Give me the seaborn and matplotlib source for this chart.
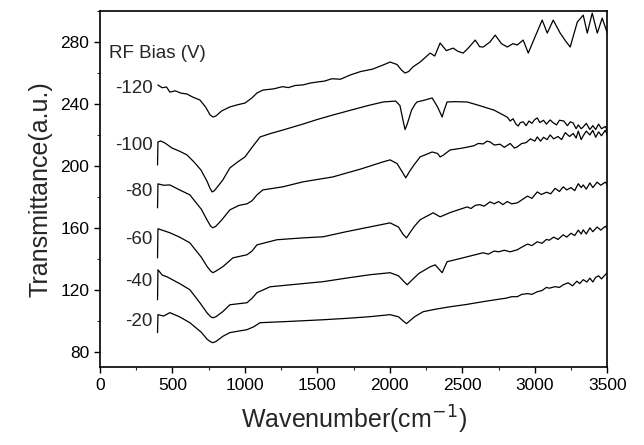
import numpy as np
import pandas as pd
import matplotlib
matplotlib.use("Agg")
import matplotlib.pyplot as plt
from matplotlib.ticker import MultipleLocator
import seaborn as sns

# ---- data ----
biases = ["-120", "-100", "-80", "-60", "-40", "-20"]

wn_120 = [400, 430, 460, 483, 520, 560, 600, 640, 690, 730, 760, 780, 800, 840, 897, 950, 1001, 1050,
          1084, 1125, 1200, 1260, 1300, 1350, 1400, 1450, 1498, 1550, 1600, 1660, 1726, 1800, 1880,
          1954, 2002, 2050, 2080, 2105, 2130, 2160, 2209, 2250, 2278, 2310, 2347, 2390, 2437, 2470,
          2506, 2540, 2589, 2620, 2644, 2690, 2727, 2770, 2810, 2850, 2879, 2920, 2955, 3000, 3051,
          3086, 3127, 3175, 3210, 3244, 3293, 3334, 3362, 3396, 3431, 3465, 3500]
t_120 = [252.3, 250.5, 251.0, 247.7, 248.5, 247.0, 246.5, 244.5, 242.6, 238.0, 233.0, 231.6, 232.2,
         235.5, 238.1, 239.5, 240.6, 244.0, 247.1, 249.0, 249.8, 251.2, 250.6, 252.0, 252.3, 253.5,
         254.2, 254.8, 256.3, 256.0, 258.7, 261.0, 262.5, 265.2, 267.1, 265.5, 262.0, 260.0, 261.0,
         264.0, 267.1, 270.5, 272.9, 271.0, 279.4, 274.5, 276.1, 274.0, 272.9, 276.0, 281.3, 277.0,
         276.8, 280.0, 284.5, 279.0, 276.8, 279.0, 278.1, 281.3, 272.9, 283.0, 294.2, 285.8, 294.2,
         285.8, 281.0, 276.8, 292.9, 297.4, 285.8, 298.7, 285.8, 295.5, 285.8]

wn_100 = [398, 401, 420, 449, 497, 550, 601, 650, 697, 740, 760, 775, 790, 820, 849, 897, 950, 1001,
          1050, 1105, 1180, 1263, 1400, 1500, 1608, 1750, 1850, 1954, 2040, 2070, 2090, 2105, 2120,
          2150, 2175, 2188, 2240, 2292, 2330, 2361, 2375, 2395, 2450, 2533, 2600, 2672, 2720, 2782,
          2810, 2830, 2850, 2870, 2886, 2900, 2920, 2940, 2960, 2980, 3000, 3017, 3035, 3060, 3080,
          3106, 3125, 3150, 3170, 3200, 3225, 3245, 3265, 3285, 3300, 3320, 3334, 3355, 3380, 3400,
          3420, 3440, 3460, 3486, 3500]
t_100 = [200.6, 215.5, 216.1, 214.8, 211.6, 209.5, 207.1, 202.5, 197.4, 190.0, 185.5, 183.2, 184.0,
         187.5, 191.0, 198.7, 202.5, 205.8, 212.0, 218.7, 221.0, 223.2, 227.0, 230.0, 232.9, 236.5,
         239.0, 241.3, 241.9, 239.0, 230.0, 223.5, 227.0, 236.0, 240.0, 241.3, 242.5, 243.9, 238.0,
         231.6, 236.0, 241.3, 241.5, 241.3, 239.5, 237.4, 236.0, 232.9, 231.5, 229.0, 230.5, 227.0,
         225.8, 228.0, 228.5, 226.0, 229.0, 227.5, 230.0, 231.0, 228.0, 229.5, 227.0, 229.7, 228.0,
         226.5, 229.5, 229.0, 226.0, 228.5, 227.7, 224.0, 226.5, 224.0, 225.2, 227.5, 223.5, 226.0,
         223.5, 227.0, 224.0, 225.5, 223.0]

wn_80 = [398, 401, 440, 483, 550, 621, 700, 740, 765, 780, 800, 840, 897, 960, 1015, 1050, 1084,
         1125, 1263, 1401, 1608, 1800, 1950, 2002, 2050, 2080, 2110, 2140, 2170, 2209, 2292, 2330,
         2347, 2370, 2416, 2500, 2580, 2610, 2644, 2670, 2692, 2720, 2760, 2790, 2830, 2860, 2879,
         2910, 2940, 2970, 3000, 3017, 3040, 3060, 3085, 3106, 3130, 3160, 3185, 3210, 3240, 3265,
         3285, 3300, 3320, 3334, 3355, 3380, 3400, 3420, 3440, 3460, 3486, 3500]
t_80 = [172.9, 188.4, 187.5, 187.7, 184.5, 181.3, 172.0, 165.0, 161.0, 160.0, 161.0, 165.0, 171.6,
        174.5, 175.5, 177.5, 181.3, 184.5, 186.5, 189.7, 192.9, 198.0, 202.5, 203.9, 201.5, 197.0,
        192.3, 197.0, 201.0, 205.8, 209.0, 208.0, 205.8, 207.0, 210.3, 211.5, 213.0, 214.5, 214.2,
        216.0, 215.5, 213.5, 214.0, 212.0, 214.5, 211.5, 212.3, 214.5, 215.0, 217.5, 216.0, 218.7,
        216.0, 218.5, 217.0, 220.0, 217.5, 219.0, 217.0, 221.5, 219.0, 221.0, 218.0, 222.5, 217.0,
        219.5, 222.5, 220.0, 223.0, 218.5, 222.0, 219.5, 223.0, 220.0]

wn_60 = [398, 401, 483, 550, 621, 700, 740, 765, 780, 800, 850, 918, 1015, 1050, 1084, 1222, 1400,
         1539, 1700, 1864, 2002, 2060, 2090, 2115, 2140, 2170, 2209, 2299, 2347, 2420, 2533, 2560,
         2590, 2620, 2650, 2692, 2720, 2750, 2780, 2810, 2840, 2879, 2910, 2950, 2980, 3017, 3045,
         3080, 3110, 3140, 3170, 3196, 3220, 3250, 3275, 3300, 3320, 3334, 3355, 3380, 3400, 3430,
         3455, 3486, 3500]
t_60 = [140.6, 159.4, 156.8, 154.0, 150.3, 141.0, 135.0, 132.0, 131.0, 132.0, 135.0, 140.6, 142.6,
        145.0, 149.0, 152.3, 153.5, 154.2, 157.5, 160.6, 163.2, 160.5, 156.0, 153.5, 157.0, 161.0,
        165.2, 169.7, 167.1, 170.0, 173.5, 172.5, 174.5, 175.0, 174.0, 176.8, 175.5, 177.0, 175.0,
        177.0, 175.5, 176.1, 178.0, 180.5, 179.0, 183.2, 181.5, 183.0, 182.0, 185.5, 183.5, 186.5,
        184.5, 186.0, 184.0, 188.5, 186.0, 187.7, 185.0, 189.0, 186.0, 189.5, 187.5, 189.5, 188.0]

wn_40 = [398, 401, 430, 462, 550, 621, 690, 740, 765, 780, 800, 850, 897, 1015, 1050, 1084, 1174,
         1350, 1539, 1700, 1864, 2002, 2060, 2095, 2120, 2150, 2200, 2278, 2313, 2361, 2395, 2500,
         2644, 2680, 2720, 2750, 2790, 2830, 2879, 2910, 2950, 2980, 3017, 3050, 3080, 3100, 3130,
         3160, 3196, 3220, 3250, 3275, 3300, 3320, 3334, 3355, 3380, 3400, 3430, 3455, 3486, 3500]
t_40 = [113.5, 132.9, 129.5, 128.4, 124.0, 120.0, 111.6, 105.0, 102.5, 101.9, 102.5, 106.0, 110.3,
        111.6, 114.5, 118.1, 121.9, 123.5, 125.2, 127.5, 129.7, 131.0, 129.0, 125.5, 123.2, 126.0,
        130.5, 134.8, 136.1, 131.0, 138.1, 140.5, 143.9, 143.0, 145.0, 144.5, 145.5, 144.5, 145.8,
        147.5, 149.5, 148.5, 151.0, 150.0, 152.5, 152.0, 154.0, 152.5, 155.5, 154.0, 156.5, 155.0,
        158.5, 156.0, 158.7, 156.0, 160.0, 157.5, 160.5, 158.5, 161.0, 159.5]

wn_20 = [398, 401, 440, 483, 550, 621, 700, 740, 765, 780, 800, 850, 897, 1015, 1060, 1105, 1300,
         1539, 1700, 1864, 2002, 2060, 2090, 2115, 2145, 2170, 2230, 2320, 2416, 2530, 2644, 2760,
         2800, 2840, 2879, 2910, 2950, 2980, 3017, 3050, 3080, 3100, 3140, 3170, 3196, 3230, 3260,
         3290, 3310, 3334, 3360, 3380, 3400, 3420, 3440, 3460, 3486, 3500]
t_20 = [92.3, 103.9, 103.0, 105.2, 102.5, 98.7, 92.5, 88.0, 86.3, 85.8, 86.5, 90.0, 92.3, 94.2, 96.0,
        98.7, 99.5, 100.6, 101.5, 102.6, 103.9, 102.5, 100.0, 98.1, 100.5, 102.5, 105.8, 107.5, 109.0,
        110.5, 112.3, 114.0, 114.5, 115.5, 115.5, 117.0, 117.5, 117.0, 118.7, 119.5, 121.5, 121.0,
        122.0, 121.5, 123.2, 124.5, 122.5, 125.5, 124.0, 126.5, 125.0, 127.5, 125.0, 128.0, 129.0,
        127.0, 129.7, 131.0]

label_y = [250.3, 213.5, 183.2, 152.3, 125.2, 99.4]

x_ticks = [0, 500, 1000, 1500, 2000, 2500, 3000, 3500]
y_ticks = [80, 120, 160, 200, 240, 280]

# ---- build long table ----
series = [(wn_120, t_120), (wn_100, t_100), (wn_80, t_80), (wn_60, t_60), (wn_40, t_40), (wn_20, t_20)]
frames = []
for b, (w, t) in zip(biases, series):
    frames.append(pd.DataFrame({"wavenumber": w, "T": t, "bias": b}))
df = pd.concat(frames, ignore_index=True)

sns.set_style("ticks")
plt.rcParams["font.family"] = ["Liberation Sans", "DejaVu Sans"]

fig = plt.figure(figsize=(6.44, 4.45), dpi=100)
ax = fig.add_axes([0.155, 0.175, 0.788, 0.800])

sns.lineplot(data=df, x="wavenumber", y="T", units="bias", estimator=None, sort=False,
             color="black", linewidth=0.9, ax=ax, legend=False)

ax.set_xlim(0, 3500)
ax.set_ylim(70, 300)
ax.set_xticks(x_ticks)
ax.set_yticks(y_ticks)
ax.xaxis.set_minor_locator(MultipleLocator(250))
ax.yaxis.set_minor_locator(MultipleLocator(20))
ax.tick_params(axis="both", which="major", direction="out", length=4, width=1,
               labelsize=12.5, colors="black", top=False, right=False)
ax.tick_params(axis="both", which="minor", direction="out", length=2.5, width=0.8,
               top=False, right=False)
for s in ax.spines.values():
    s.set_visible(True)
    s.set_linewidth(1.2)
    s.set_color("black")

ax.set_xlabel("Wavenumber(cm$^{-1}$)", fontsize=18, labelpad=8)
ax.set_ylabel("Transmittance(a.u.)", fontsize=18, labelpad=6)

ax.text(62, 272.9, "RF Bias (V)", fontsize=13.5, ha="left", va="center")
for b, yv in zip(biases, label_y):
    ax.text(365, yv, b, fontsize=13.5, ha="right", va="center")

fig.savefig("out.png", dpi=100)
